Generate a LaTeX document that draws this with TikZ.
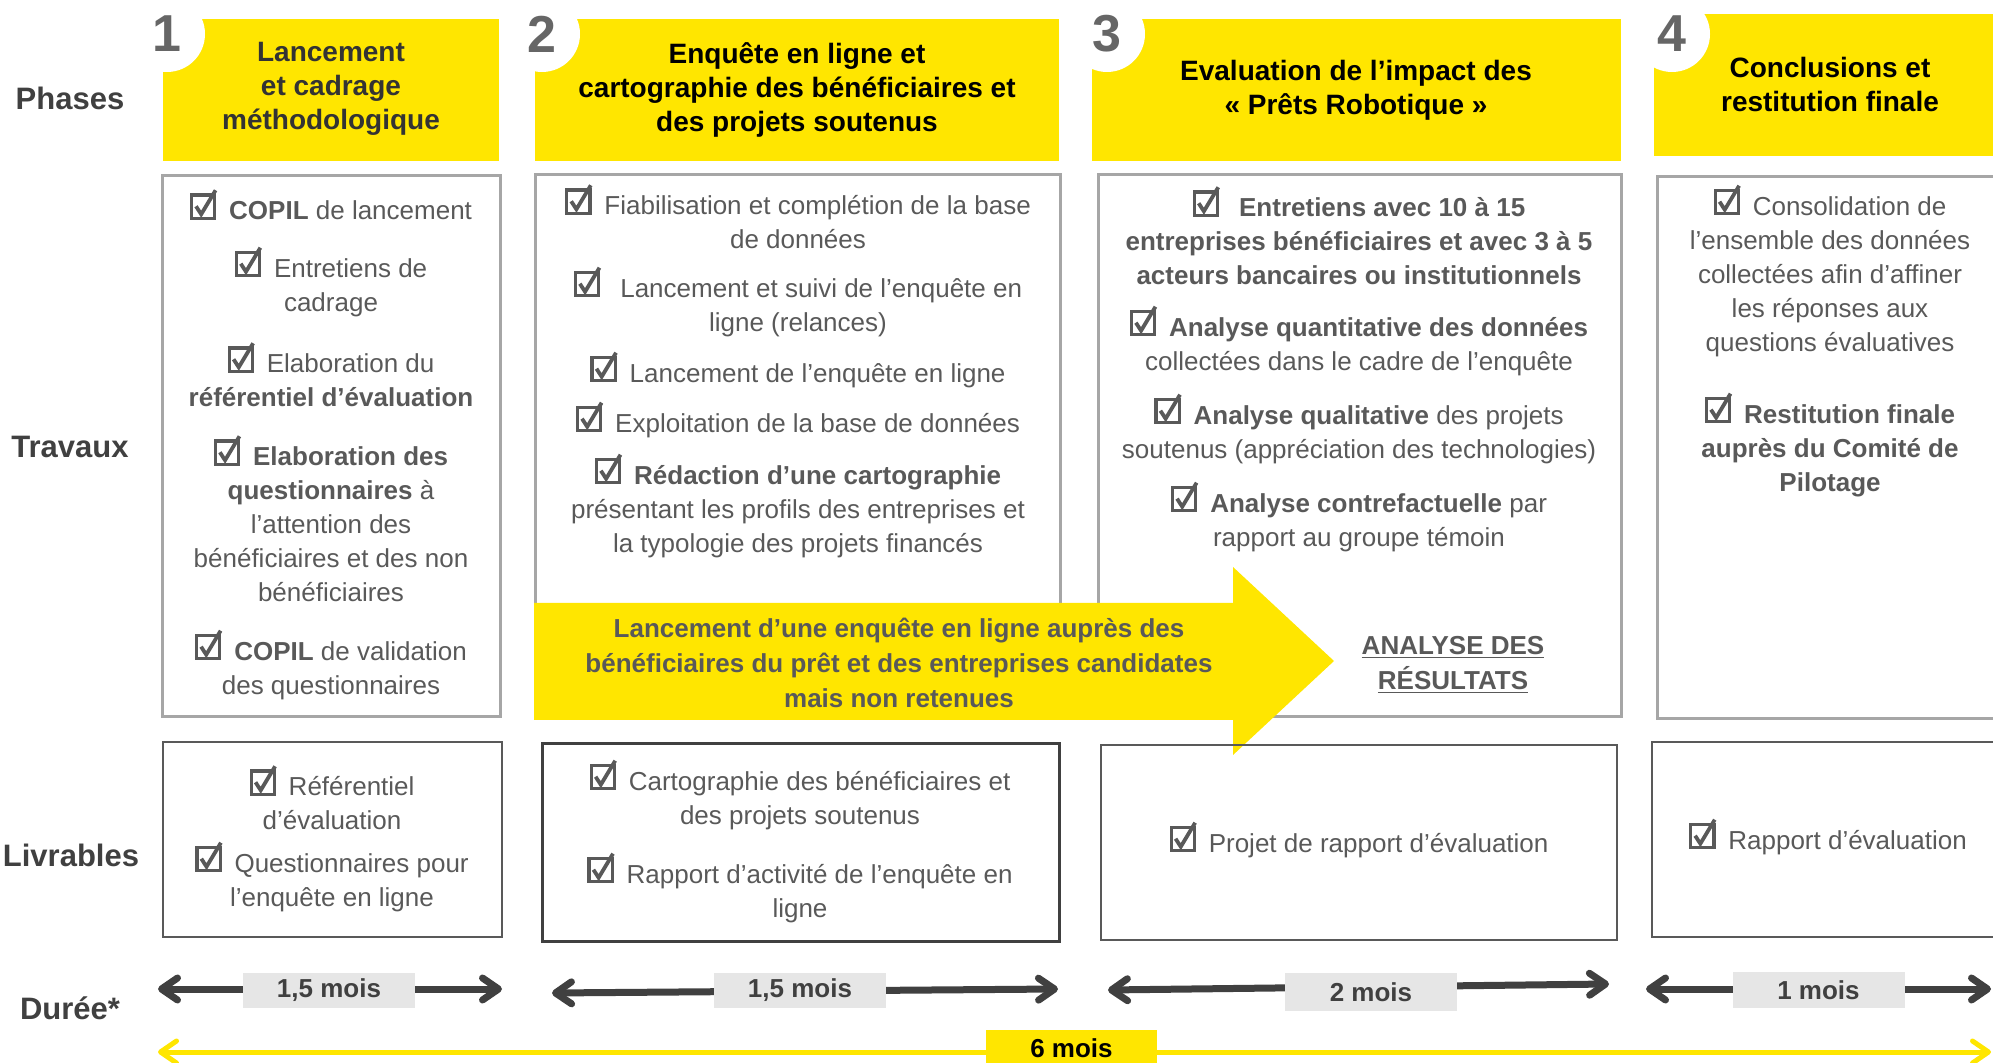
\documentclass[tikz,border=0pt]{standalone}
\usepackage{fontspec}
\setmainfont{Liberation Sans}
\usetikzlibrary{arrows.meta}
\definecolor{eyyellow}{HTML}{FFE600}
\definecolor{txtgray}{HTML}{595959}
\definecolor{boxgray}{HTML}{A6A6A6}
\definecolor{darkarrow}{HTML}{404040}
\definecolor{labelgray}{HTML}{404040}
\definecolor{durfill}{HTML}{E6E6E6}
\definecolor{numgray}{HTML}{666666}
\newcommand{\chk}{\tikz[x=1pt,y=1pt,baseline=0pt]{\path[use as bounding box] (0,0) rectangle (13.5,13);\draw[txtgray,line width=1.6pt,line join=miter] (0.8,0.8) rectangle (12.4,12.4);\draw[txtgray,line width=1.9pt,line join=miter] (3,6.8) -- (5.6,2.8) -- (12.8,14.8);}\kern2.5pt}
\newcommand{\itemfont}{\fontsize{13pt}{17pt}\selectfont}
\begin{document}
\begin{tikzpicture}[x=0.5pt, y={(0pt,-0.5pt)},
  rowlabel/.style={font=\fontsize{15.5pt}{18pt}\selectfont\bfseries, text=labelgray, inner sep=0pt},
  phasebox/.style={fill=eyyellow, draw=none, inner sep=0pt, minimum height=71pt},
  phasetitle/.style={font=\fontsize{14pt}{17pt}\selectfont\bfseries, align=center, inner sep=0pt},
  numcircle/.style={circle, fill=white, minimum size=38pt, inner sep=0pt, font=\fontsize{26pt}{26pt}\selectfont\bfseries, text=numgray},
  workbox/.style={draw=boxgray, line width=1.5pt, inner sep=0pt},
  item/.style={font=\itemfont, text=txtgray, align=center, inner sep=0pt},
  delivbox/.style={draw=txtgray, line width=0.8pt, inner sep=0pt},
  delivboxthick/.style={draw=darkarrow, line width=1.5pt, inner sep=0pt},
  durlabel/.style={fill=durfill, font=\fontsize{13pt}{15pt}\selectfont\bfseries, text=darkarrow, minimum width=86pt, minimum height=17.5pt, inner sep=0pt},
  durarrow/.style={draw=darkarrow, line width=3.5pt, >={Straight Barb[length=8pt,width=11pt,round]}, <->},
  yarrow/.style={draw=eyyellow, line width=2.5pt, >={Straight Barb[length=8pt,width=11pt,round]}, <->},
  arrowtext/.style={font=\fontsize{13pt}{17.5pt}\selectfont\bfseries, text=txtgray, align=center, inner sep=0pt}
]
\useasboundingbox (0,0) rectangle (1993,1063);

% ---------- Row labels
\node[rowlabel] (lphases) at (70,98) {Phases};
\node[rowlabel] (ltravaux) at (70,447) {Travaux};
\node[rowlabel] (llivrables) at (71,855) {Livrables};
\node[rowlabel] (lduree) at (70,1008) {Durée*};

% ---------- Phase boxes
\node[phasebox, minimum width=168pt] (p1) at (331,90) {};
\node[phasebox, minimum width=262pt] (p2) at (797,90) {};
\node[phasebox, minimum width=264.5pt] (p3) at (1356.5,90) {};
\node[phasebox, minimum width=178pt] (p4) at (1832,85) {};

\node[numcircle] (n1) at (167,34) {1};
\node[numcircle] (n2) at (542,34) {2};
\node[numcircle] (n3) at (1107,34) {3};
\node[numcircle] (n4) at (1672,34) {4};

\node[phasetitle, text=black!80] (pt1) at (331,89) {Lancement\\et cadrage\\méthodologique};
\node[phasetitle] (pt2) at (797,90) {Enquête en ligne et\\cartographie des bénéficiaires et\\des projets soutenus};
\node[phasetitle] (pt3) at (1356,90) {Evaluation de l’impact des\\« Prêts Robotique »};
\node[phasetitle] (pt4) at (1830,84) {Conclusions et\\restitution finale};

% ---------- Work boxes
\node[workbox, minimum width=169pt, minimum height=270.5pt] (w1) at (331,446.5) {};
\node[workbox, minimum width=262.5pt, minimum height=271pt] (w2) at (797.5,446) {};
\node[workbox, minimum width=261.5pt, minimum height=271pt] (w3) at (1359.5,446) {};
\node[workbox, minimum width=176.5pt, minimum height=271pt] (w4) at (1833.5,448) {};

% ---------- Big yellow arrow
\fill[eyyellow] (534,603) -- (1233,603) -- (1233,567) -- (1334,661) -- (1233,755) -- (1233,720) -- (534,720) -- cycle;
\node[arrowtext] (arrtxt) at (899,663) {Lancement d’une enquête en ligne auprès des\\bénéficiaires du prêt et des entreprises candidates\\mais non retenues};
\node[arrowtext] (analyse) at (1453,665) {\underline{ANALYSE DES}\\\underline{RÉSULTATS}};

% ---------- Travaux items, box 1
\node[item] (t1a) at (331,207) {\chk\ {\bfseries COPIL} de lancement};
\node[item] (t1b) at (331,284) {\chk\ Entretiens de\\cadrage};
\node[item] (t1c) at (331,377) {\chk\ Elaboration du\\{\bfseries référentiel d’évaluation}};
\node[item] (t1d) at (331,521) {\chk\ {\bfseries Elaboration des}\\{\bfseries questionnaires} à\\l’attention des\\bénéficiaires et des non\\bénéficiaires};
\node[item] (t1e) at (331,667) {\chk\ {\bfseries COPIL} de validation\\des questionnaires};

% ---------- Travaux items, box 2
\node[item] (t2a) at (798,219) {\chk\ Fiabilisation et complétion de la base\\de données};
\node[item] (t2b) at (798,304) {\chk\ \ Lancement et suivi de l’enquête en\\ligne (relances)};
\node[item] (t2c) at (798,372) {\chk\ Lancement de l’enquête en ligne};
\node[item] (t2d) at (798,422) {\chk\ Exploitation de la base de données};
\node[item] (t2e) at (798,508) {\chk\ {\bfseries Rédaction d’une cartographie}\\présentant les profils des entreprises et\\la typologie des projets financés};

% ---------- Travaux items, box 3
\node[item] (t3a) at (1359,238) {\chk\ \ {\bfseries Entretiens avec 10 à 15}\\{\bfseries entreprises bénéficiaires et avec 3 à 5}\\{\bfseries acteurs bancaires ou institutionnels}};
\node[item] (t3b) at (1359,343) {\chk\ {\bfseries Analyse quantitative des données}\\collectées dans le cadre de l’enquête};
\node[item] (t3c) at (1359,431) {\chk\ {\bfseries Analyse qualitative} des projets\\soutenus (appréciation des technologies)};
\node[item] (t3d) at (1359,519) {\chk\ {\bfseries Analyse contrefactuelle} par\\rapport au groupe témoin};

% ---------- Travaux items, box 4
\node[item] (t4a) at (1830,273) {\chk\ Consolidation de\\l’ensemble des données\\collectées afin d’affiner\\les réponses aux\\questions évaluatives};
\node[item] (t4b) at (1830,447) {\chk\ {\bfseries Restitution finale}\\{\bfseries auprès du Comité de}\\{\bfseries Pilotage}};

% ---------- Livrables
\node[delivbox, minimum width=169.5pt, minimum height=97.5pt] (lv1) at (332.5,839.5) {};
\node[delivboxthick, minimum width=258.5pt, minimum height=98.5pt] (lv2) at (800.5,842.5) {};
\node[delivbox, minimum width=258pt, minimum height=97.5pt] (lv3) at (1359,842.5) {};
\node[delivbox, minimum width=179pt, minimum height=97.5pt] (lv4) at (1831,839.5) {};

\node[item] (v1a) at (332,800) {\chk\ Référentiel\\d’évaluation};
\node[item] (v1b) at (332,879) {\chk\ Questionnaires pour\\l’enquête en ligne};
\node[item] (v2a) at (800,797) {\chk\ Cartographie des bénéficiaires et\\des projets soutenus};
\node[item] (v2b) at (800,890) {\chk\ Rapport d’activité de l’enquête en\\ligne};
\node[item] (v3a) at (1359,842) {\chk\ Projet de rapport d’évaluation};
\node[item] (v4a) at (1828,839) {\chk\ Rapport d’évaluation};

% ---------- Durées
\coordinate (d1l) at (158,989);
\coordinate (d1r) at (502,989);
\coordinate (d2l) at (552,993);
\coordinate (d2r) at (1058,989);
\coordinate (d3l) at (1108,990);
\coordinate (d3r) at (1609,984);
\coordinate (d4l) at (1646,989);
\coordinate (d4r) at (1991,989);
\coordinate (d6l) at (158,1052);
\coordinate (d6r) at (1991,1052);

\draw[durarrow] (d1l) -- (d1r);
\draw[durarrow] (d2l) -- (d2r);
\draw[durarrow] (d3l) -- (d3r);
\draw[durarrow] (d4l) -- (d4r);
\draw[yarrow] (d6l) -- (d6r);

\node[durlabel] (d1) at (329,990.5) {1,5 mois};
\node[durlabel] (d2) at (800,990.5) {1,5 mois};
\node[durlabel, minimum height=19pt] (d3) at (1371,992) {2 mois};
\node[durlabel, minimum height=18pt] (d4) at (1818.5,990) {1 mois};
\node[durlabel, fill=eyyellow, text=black, minimum width=85.5pt, minimum height=18pt] (d6) at (1071.5,1048) {6 mois};

\end{tikzpicture}
\end{document}
